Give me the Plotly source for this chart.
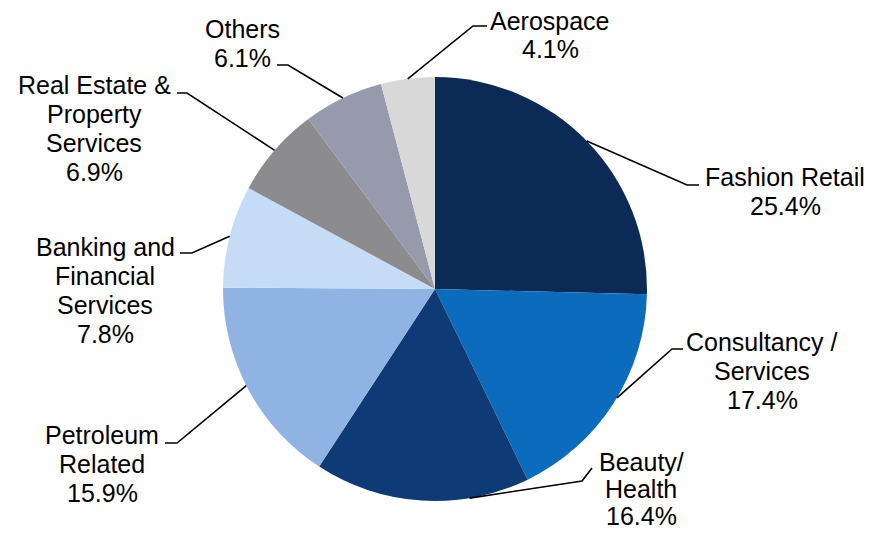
import math
import plotly.graph_objects as go

# ---- data ----
categories = ["Fashion Retail", "Consultancy / Services", "Beauty/ Health", "Petroleum Related",
              "Banking and Financial Services", "Real Estate & Property Services", "Others", "Aerospace"]
shares = [25.4, 17.4, 16.4, 15.9, 7.8, 6.9, 6.1, 4.1]
label_lines = [
    ["Fashion Retail", "25.4%"],
    ["Consultancy /", "Services", "17.4%"],
    ["Beauty/", "Health", "16.4%"],
    ["Petroleum", "Related", "15.9%"],
    ["Banking and", "Financial", "Services", "7.8%"],
    ["Real Estate &", "Property", "Services", "6.9%"],
    ["Others", "6.1%"],
    ["Aerospace", "4.1%"],
]

# ---- style / layout ----
colors = ["#0c2a56", "#0b6bbd", "#0e3b75", "#8fb4e3", "#c6dcf6", "#8c8c8e", "#9799ad", "#d8d8d8"]
OFF = 8                      # page body margin of the html page
W, H = 879, 534              # figure size
CX, CY, R = 435, 289, 212    # pie centre / radius in window pixels
FONT = dict(family="Liberation Sans, Arial, sans-serif", size=25, color="#000000")

# label layout (window pixels): text centre x, first-line centre y, line gap,
# anchor fraction inside the slice, leader elbow points
label_layout = [
    dict(cx=785, y0=177, gap=29, frac=0.5, path=[(687, 185), (699, 185)]),
    dict(cx=762, y0=342, gap=29, frac=0.47, path=[(672, 349), (683, 349)]),
    dict(cx=641, y0=462, gap=27, frac=0.28, path=[(582, 481), (592, 468)]),
    dict(cx=102, y0=435, gap=29, frac=0.52, path=[(177, 443), (165, 443)]),
    dict(cx=105, y0=247, gap=29, frac=0.5, path=[(192, 253), (180, 253)]),
    dict(cx=94, y0=85, gap=29, frac=0.5, path=[(187, 93), (177, 93)]),
    dict(cx=242, y0=29, gap=29, frac=0.5, path=[(288, 65), (277, 65)]),
    dict(cx=550, y0=21, gap=28, frac=0.5, path=[(473, 26), (487, 26)]),
]


def px(x):
    return x - OFF


def py(y):
    return y - OFF


fig = go.Figure()
fig.add_trace(go.Pie(
    labels=categories, values=shares, sort=False, direction="clockwise", rotation=0,
    marker=dict(colors=colors, line=dict(width=0)), textinfo="none", hoverinfo="label+value",
    showlegend=False,
    domain=dict(x=[px(CX - R) / W, px(CX + R) / W],
                y=[(H - py(CY) - R) / H, (H - py(CY) + R) / H]),
))
# invisible trace to create the overlay pixel axes
fig.add_trace(go.Scatter(x=[], y=[], showlegend=False, hoverinfo="skip"))

total = sum(shares)
cum = 0.0
shapes = []
annotations = []
for val, lines, lay in zip(shares, label_lines, label_layout):
    pos = (cum + val * lay["frac"]) / total
    cum += val
    ang = 2 * math.pi * pos
    ax = CX + R * math.sin(ang)
    ay = CY - R * math.cos(ang)
    pts = [(ax, ay)] + lay["path"]
    d = "M {} {}".format(px(pts[0][0]), py(pts[0][1])) + "".join(
        " L {} {}".format(px(p[0]), py(p[1])) for p in pts[1:])
    shapes.append(dict(type="path", path=d, xref="x", yref="y",
                       line=dict(color="#000000", width=1.6)))
    for i, t in enumerate(lines):
        annotations.append(dict(x=px(lay["cx"]), y=py(lay["y0"] + i * lay["gap"]), xref="x", yref="y",
                                text=t, showarrow=False, xanchor="center", yanchor="middle",
                                font=FONT))

fig.update_layout(
    width=W, height=H,
    margin=dict(l=0, r=0, t=0, b=0),
    paper_bgcolor="#ffffff", plot_bgcolor="rgba(0,0,0,0)",
    xaxis=dict(range=[0, W], visible=False, fixedrange=True, domain=[0, 1]),
    yaxis=dict(range=[H, 0], visible=False, fixedrange=True, domain=[0, 1]),
    shapes=shapes, annotations=annotations,
)

fig.write_html("out.html")
